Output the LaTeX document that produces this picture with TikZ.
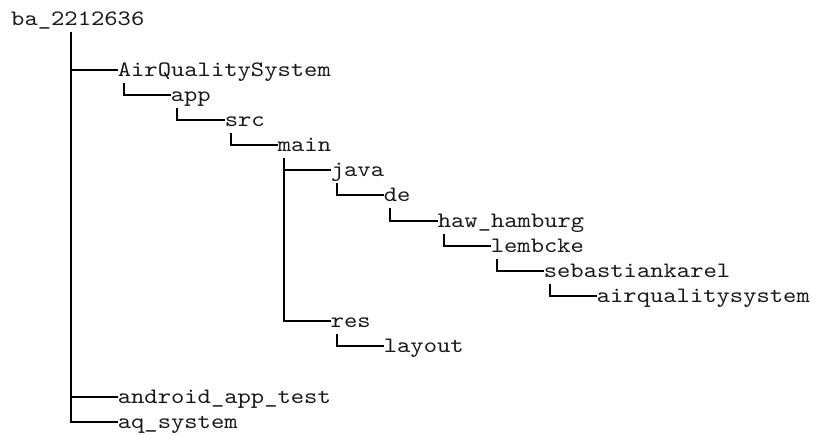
\documentclass[tikz,border=0pt]{standalone}
\usepackage{fontspec}
\newfontfamily\treefont[Extension=.otf,FakeStretch=1.153]{lmmono10-regular}
\begin{document}
\begin{tikzpicture}[x=1pt,y=-1pt,
  dir/.style={anchor=west,inner sep=0pt,text height=12pt,text depth=0pt,
    font=\treefont\fontsize{22pt}{26pt}\selectfont,text=black!90},
  branch/.style={draw=black,line width=1.8pt}]
\useasboundingbox[fill=white] (0,0) rectangle (816,434);
% directory names, one row per line
\node[dir] (ba)      at (11,19)       {ba\_2212636};
\node[dir] (aqsys)   at (117.6,70)    {AirQualitySystem};
\node[dir] (app)     at (170.6,95)    {app};
\node[dir] (src)     at (224.6,120)   {src};
\node[dir] (main)    at (277.6,145)   {main};
\node[dir] (java)    at (330.6,170)   {java};
\node[dir] (de)      at (383.6,195)   {de};
\node[dir] (haw)     at (437.6,221)   {haw\_hamburg};
\node[dir] (lem)     at (490.6,246)   {lembcke};
\node[dir] (seb)     at (543.6,271)   {sebastiankarel};
\node[dir] (aqpkg)   at (596.6,296)   {airqualitysystem};
\node[dir] (res)     at (330.6,321)   {res};
\node[dir] (layout)  at (383.6,346)   {layout};
\node[dir] (android) at (117.6,397)   {android\_app\_test};
\node[dir] (aqs)     at (117.6,422)   {aq\_system};
% tree branches: each parent drops a line from below its name
\coordinate (baR)   at ([xshift=60pt,yshift=-7pt]ba.south west);
\coordinate (aqR)   at ([xshift=6.4pt,yshift=-7pt]aqsys.south west);
\coordinate (appR)  at ([xshift=6.4pt,yshift=-7pt]app.south west);
\coordinate (srcR)  at ([xshift=6.4pt,yshift=-7pt]src.south west);
\coordinate (mainR) at ([xshift=6.4pt,yshift=-7pt]main.south west);
\coordinate (javaR) at ([xshift=6.4pt,yshift=-7pt]java.south west);
\coordinate (deR)   at ([xshift=6.4pt,yshift=-7pt]de.south west);
\coordinate (hawR)  at ([xshift=6.4pt,yshift=-7pt]haw.south west);
\coordinate (lemR)  at ([xshift=6.4pt,yshift=-7pt]lem.south west);
\coordinate (sebR)  at ([xshift=6.4pt,yshift=-7pt]seb.south west);
\coordinate (resR)  at ([xshift=6.4pt,yshift=-7pt]res.south west);
\draw[branch] (baR) |- (aqsys.west);
\draw[branch] (baR) |- (android.west);
\draw[branch] (baR) |- (aqs.west);
\draw[branch] (aqR) |- (app.west);
\draw[branch] (appR) |- (src.west);
\draw[branch] (srcR) |- (main.west);
\draw[branch] (mainR) |- (java.west);
\draw[branch] (mainR) |- (res.west);
\draw[branch] (javaR) |- (de.west);
\draw[branch] (deR) |- (haw.west);
\draw[branch] (hawR) |- (lem.west);
\draw[branch] (lemR) |- (seb.west);
\draw[branch] (sebR) |- (aqpkg.west);
\draw[branch] (resR) |- (layout.west);
\end{tikzpicture}
\end{document}
